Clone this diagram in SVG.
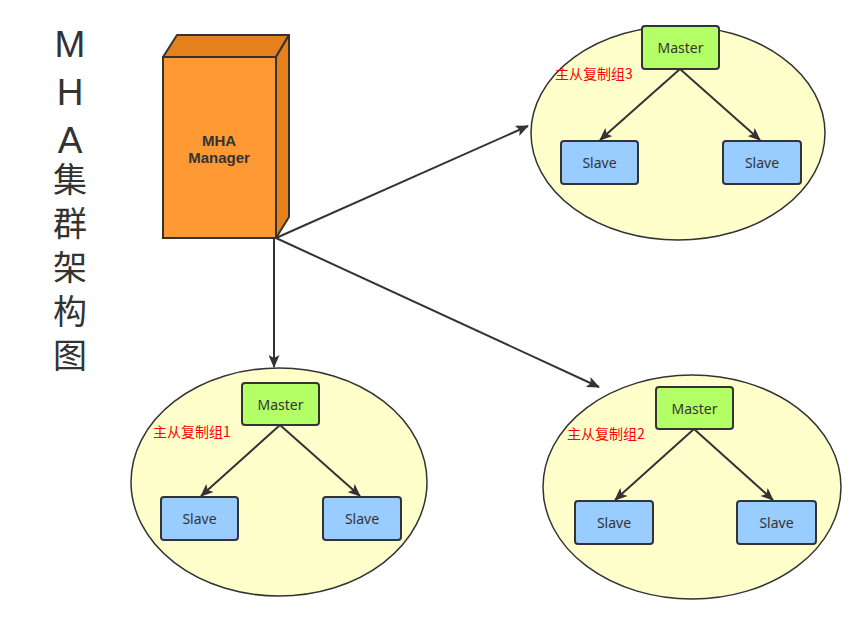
<svg xmlns="http://www.w3.org/2000/svg" width="862" height="618" viewBox="0 0 862 618">
<style>
.ell{fill:#FFFFCC;stroke:#333;stroke-width:1.5}
.master{fill:#B3FF66;stroke:#333;stroke-width:2}
.slave{fill:#99CCFF;stroke:#333;stroke-width:2}
.t{font-family:"Noto Sans","Liberation Sans",sans-serif;font-size:14px;fill:#333;text-anchor:middle;dominant-baseline:central}
.b{font-family:"Liberation Sans",sans-serif;font-size:15px;font-weight:bold}
.lbl{font-family:"Noto Sans CJK SC","Liberation Sans",sans-serif;font-size:14px;fill:#FF0000;dominant-baseline:central}
.title{font-family:"Liberation Sans","Noto Sans CJK SC",sans-serif;fill:#333;writing-mode:vertical-rl;text-orientation:upright}
.edge{stroke:#333;stroke-width:2;fill:none;marker-end:url(#arr)}
</style>
<defs>
<marker id="arr" viewBox="0 0 13 11" refX="12" refY="5.5" markerWidth="13" markerHeight="11" markerUnits="userSpaceOnUse" orient="auto">
<path d="M0,0 L13,5.5 L0,11 L3,5.5 Z" fill="#333"/>
</marker>
</defs>
<g id="title">
<text class="title" x="70" y="24"><tspan font-size="37" letter-spacing="7">MH</tspan><tspan font-size="37" letter-spacing="1">A</tspan><tspan font-family="Noto Sans CJK SC, sans-serif" font-size="34" letter-spacing="10">集群架构图</tspan></text>
</g>
<g id="manager">
<polygon points="163,57 177,35 289,35 276,57" fill="#E5801C" stroke="#333" stroke-width="2" stroke-linejoin="round"/>
<polygon points="276,57 289,35 289,217 276,238" fill="#E5801C" stroke="#333" stroke-width="2" stroke-linejoin="round"/>
<rect x="163" y="57" width="113" height="181" fill="#FF9933" stroke="#333" stroke-width="2"/>
<text class="t b" x="219" y="140">MHA</text>
<text class="t b" x="219" y="157">Manager</text>
</g>
<g id="group3">
<ellipse class="ell" cx="678" cy="133" rx="147" ry="107"/>
<text class="lbl" x="555" y="73">主从复制组3</text>
</g>
<g id="group1">
<ellipse class="ell" cx="279" cy="482" rx="148" ry="114"/>
<text class="lbl" x="153" y="431">主从复制组1</text>
</g>
<g id="group2">
<ellipse class="ell" cx="692" cy="487" rx="149" ry="112"/>
<text class="lbl" x="567" y="433">主从复制组2</text>
</g>
<g id="connectors">
<line class="edge" x1="276" y1="238" x2="528" y2="126"/>
<line class="edge" x1="274" y1="238" x2="274" y2="367"/>
<line class="edge" x1="276" y1="238" x2="599" y2="387"/>
<line class="edge" x1="680" y1="69" x2="600" y2="140"/>
<line class="edge" x1="680" y1="69" x2="760" y2="140"/>
<line class="edge" x1="280" y1="425" x2="201" y2="496"/>
<line class="edge" x1="280" y1="425" x2="360" y2="496"/>
<line class="edge" x1="694" y1="429" x2="615" y2="500"/>
<line class="edge" x1="694" y1="429" x2="773" y2="500"/>
</g>
<g id="master3"><rect class="master" x="642" y="26" width="77" height="43" rx="3"/><text class="t" x="680.5" y="47">Master</text></g>
<g id="slave3a"><rect class="slave" x="561" y="141" width="77" height="43" rx="3"/><text class="t" x="599.5" y="162">Slave</text></g>
<g id="slave3b"><rect class="slave" x="723" y="141" width="78" height="43" rx="3"/><text class="t" x="762" y="162">Slave</text></g>
<g id="master1"><rect class="master" x="242" y="383" width="77" height="42" rx="3"/><text class="t" x="280.5" y="404">Master</text></g>
<g id="slave1a"><rect class="slave" x="161" y="497" width="77" height="43" rx="3"/><text class="t" x="199.5" y="518">Slave</text></g>
<g id="slave1b"><rect class="slave" x="323" y="497" width="78" height="43" rx="3"/><text class="t" x="362" y="518">Slave</text></g>
<g id="master2"><rect class="master" x="656" y="387" width="77" height="42" rx="3"/><text class="t" x="694.5" y="408">Master</text></g>
<g id="slave2a"><rect class="slave" x="575" y="501" width="78" height="43" rx="3"/><text class="t" x="614" y="522">Slave</text></g>
<g id="slave2b"><rect class="slave" x="737" y="501" width="79" height="43" rx="3"/><text class="t" x="776.5" y="522">Slave</text></g>
</svg>
